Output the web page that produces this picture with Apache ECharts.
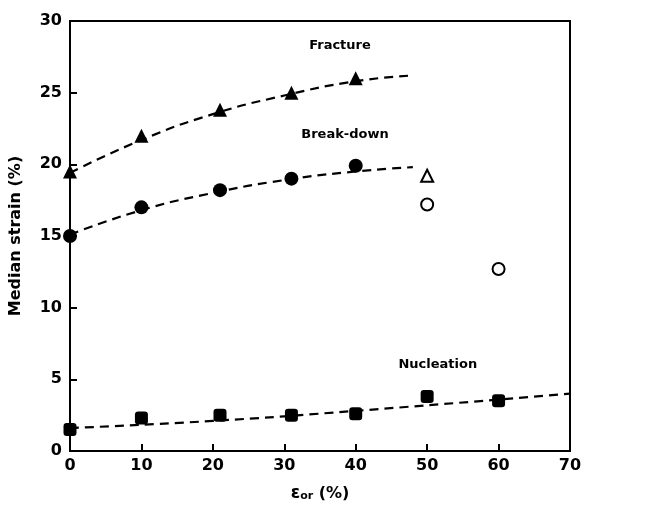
<!DOCTYPE html>
<html>
<head>
<meta charset="utf-8">
<style>html,body{margin:0;padding:0;background:#fff}#chart{width:653px;height:511px}</style>
<script src="https://cdn.jsdelivr.net/npm/echarts@6/dist/echarts.min.js"></script>
</head>
<body>
<div id="chart"></div>
<script>
// Measured median strains versus prior strain eps_or (%)
const fractureX = [0, 10, 21, 31, 40];
const fractureY = [19.5, 22.0, 23.8, 25.0, 26.0];
const breakdownX = [0, 10, 21, 31, 40];
const breakdownY = [15.0, 17.0, 18.2, 19.0, 19.9];
const nucleationX = [0, 10, 21, 31, 40, 50, 60];
const nucleationY = [1.5, 2.3, 2.5, 2.5, 2.6, 3.8, 3.5];
// Open symbols beyond the fitted range
const openTriangleX = [50];
const openTriangleY = [19.2];
const openCircleX = [50, 60];
const openCircleY = [17.2, 12.7];
// Dashed trend curves
const fractureFitX = [0, 10, 20, 30, 40, 48];
const fractureFitY = [19.4, 21.7, 23.5, 24.8, 25.8, 26.2];
const breakdownFitX = [0, 10, 20, 30, 40, 48];
const breakdownFitY = [15.1, 16.8, 18.0, 18.9, 19.5, 19.8];
const nucleationFitX = [0, 20, 40, 70];
const nucleationFitY = [1.6, 2.1, 2.8, 4.0];
// Curve names
const curveNames = ['Fracture', 'Break-down', 'Nucleation'];
const curveNameX = [37.8, 38.5, 51.5];
const curveNameY = [28.3, 22.1, 6.0];

const zip = (xs, ys) => xs.map((x, i) => [x, ys[i]]);
const FONT = 'DejaVu Sans';
const INK = '#000';

const dashed = (name, xs, ys) => ({
  name, type: 'line', data: zip(xs, ys), smooth: true, symbol: 'none',
  lineStyle: { color: INK, width: 2.2, type: [9, 6] }, z: 2, silent: true
});
const points = (name, xs, ys, symbol, size, filled) => ({
  name, type: 'scatter', data: zip(xs, ys), symbol, symbolSize: size,
  itemStyle: filled ? { color: INK, opacity: 1 } : { color: '#fff', borderColor: INK, borderWidth: 2, opacity: 1 },
  z: 3
});

const chart = echarts.init(document.getElementById('chart'));
chart.setOption({
  animation: false,
  backgroundColor: '#fff',
  grid: { left: 70, right: 83, top: 21, bottom: 60, show: true, borderColor: INK, borderWidth: 2 },
  xAxis: {
    type: 'value', min: 0, max: 70, interval: 10,
    name: '{e|ε}{sub|or} (%)', nameLocation: 'middle', nameGap: 34,
    nameTextStyle: { fontFamily: FONT, fontSize: 16, fontWeight: 'bold', color: INK,
      rich: { e: { fontFamily: FONT, fontSize: 17, color: INK, fontWeight: 'bold' },
              sub: { fontFamily: FONT, fontSize: 11, color: INK, fontWeight: 'bold', verticalAlign: 'bottom', padding: [6, 0, 0, 0] } } },
    axisLine: { show: true, lineStyle: { color: INK, width: 2 } },
    axisTick: { show: true, inside: true, length: 7, lineStyle: { color: INK, width: 2 } },
    axisLabel: { fontFamily: FONT, fontSize: 16, fontWeight: 'bold', color: INK, margin: 7 },
    splitLine: { show: false }
  },
  yAxis: {
    type: 'value', min: 0, max: 30, interval: 5,
    name: 'Median strain (%)', nameLocation: 'middle', nameGap: 46, nameRotate: 90,
    nameTextStyle: { fontFamily: FONT, fontSize: 16, fontWeight: 'bold', color: INK },
    axisLine: { show: true, lineStyle: { color: INK, width: 2 } },
    axisTick: { show: true, inside: true, length: 7, lineStyle: { color: INK, width: 2 } },
    axisLabel: { fontFamily: FONT, fontSize: 16, fontWeight: 'bold', color: INK, margin: 8 },
    splitLine: { show: false }
  },
  series: [
    dashed('Fracture fit', fractureFitX, fractureFitY),
    dashed('Break-down fit', breakdownFitX, breakdownFitY),
    dashed('Nucleation fit', nucleationFitX, nucleationFitY),
    points('Fracture', fractureX, fractureY, 'triangle', 14, true),
    points('Break-down', breakdownX, breakdownY, 'circle', 14, true),
    points('Nucleation', nucleationX, nucleationY, 'roundRect', 13, true),
    points('Fracture (open)', openTriangleX, openTriangleY, 'triangle', 12, false),
    points('Break-down (open)', openCircleX, openCircleY, 'circle', 12, false),
    {
      name: 'labels', type: 'scatter', symbolSize: 0, silent: true, z: 4,
      itemStyle: { opacity: 1 },
      data: curveNames.map((n, i) => ({ value: [curveNameX[i], curveNameY[i]], name: n })),
      label: { show: true, position: 'inside', formatter: p => p.name,
        fontFamily: FONT, fontSize: 13, fontWeight: 'bold', color: INK, opacity: 1 }
    }
  ]
});
</script>
</body>
</html>
